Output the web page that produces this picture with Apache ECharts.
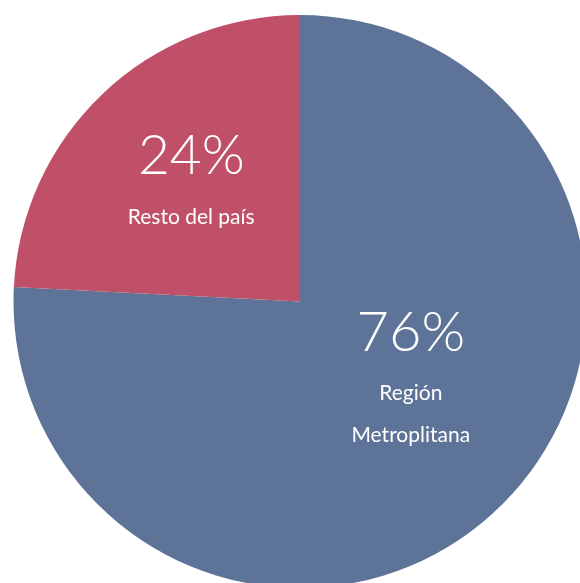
<!DOCTYPE html>
<html>
<head>
<meta charset="utf-8">
<style>html,body{margin:0;padding:0;background:#fff;}#c{width:580px;height:583px;}</style>
<script src="https://cdn.jsdelivr.net/npm/echarts@6/dist/echarts.min.js"></script>
</head>
<body>
<div id="c"></div>
<script>
const categories = ['Región\nMetroplitana', 'Resto del país'];
const values = [75.8, 24.2];
const percentLabels = ['76%', '24%'];
const colors = ['#5e7398', '#c05068'];

const labelOffsets = [[10, -33], [-8, -18]];
const percentSizes = [56, 55];

const chart = echarts.init(document.getElementById('c'), null, {renderer: 'canvas'});
chart.setOption({
  animation: false,
  backgroundColor: '#ffffff',
  series: [{
    type: 'pie',
    center: [300, 301.5],
    radius: [0, 286.5],
    startAngle: 90,
    clockwise: true,
    silent: true,
    itemStyle: {borderWidth: 0},
    labelLine: {show: false},
    data: categories.map((c, i) => ({
      name: c,
      value: values[i],
      itemStyle: {color: colors[i]},
      label: {
        show: true,
        position: 'inside',
        offset: labelOffsets[i],
        formatter: '{p|' + percentLabels[i] + '}\n{n|{b}}',
        rich: {
          p: {fontFamily: 'Lato', fontWeight: 300, fontSize: percentSizes[i], lineHeight: 80, color: '#ffffff', align: 'center'},
          n: {fontFamily: 'Lato', fontSize: 21, lineHeight: 42, color: '#ffffff', align: 'center'}
        }
      }
    }))
  }]
});
</script>
</body>
</html>
